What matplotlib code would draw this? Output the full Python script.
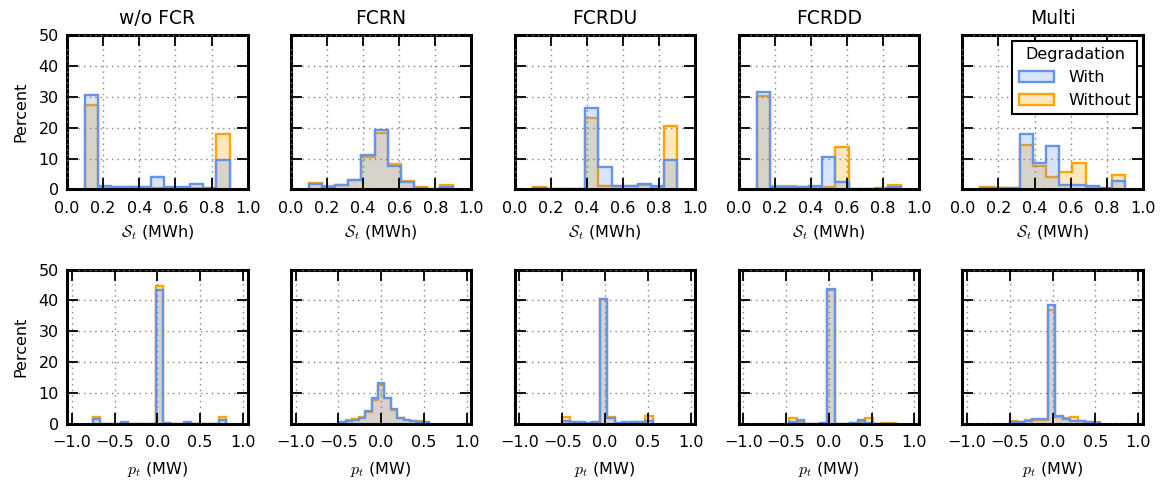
import matplotlib
matplotlib.use("Agg")
import matplotlib.pyplot as plt
from matplotlib.patches import Patch
import numpy as np

plt.rcParams['font.family'] = ['DejaVu Sans']
plt.rcParams['mathtext.fontset'] = 'cm'
plt.rcParams['font.size'] = 11

titles = ["w/o FCR", "FCRN", "FCRDU", "FCRDD", "Multi"]

# state of energy histograms (percent), bins 0.1 .. 0.9
s_edges = np.linspace(0.1, 0.9, 12)
s_with = [
    [30.5, 1.0, 0.7, 0.8, 0.8, 4.0, 0.8, 0.8, 1.8, 0.5, 9.5],
    [1.8, 0.75, 1.4, 3.1, 11.2, 19.2, 7.5, 2.5, 0.5, 0.3, 0.9],
    [0.5, 0.3, 0.3, 0.3, 26.5, 7.3, 1.0, 1.0, 1.9, 1.0, 9.4],
    [31.6, 0.75, 0.75, 0.75, 1.0, 10.4, 2.5, 0.3, 0.3, 0.3, 0.75],
    [0.4, 0.4, 0.4, 17.9, 8.5, 14.1, 1.5, 1.5, 1.2, 0.5, 2.9],
]
s_without = [
    [27.5, 0.9, 0.7, 0.8, 0.8, 0.5, 0.6, 0.6, 0.6, 0.5, 18.1],
    [2.0, 1.0, 1.3, 3.0, 10.6, 18.3, 8.1, 2.8, 0.9, 0.3, 1.3],
    [0.7, 0.3, 0.3, 0.3, 23.1, 1.0, 1.2, 1.2, 1.4, 0.5, 20.7],
    [30.1, 1.0, 1.0, 0.8, 0.5, 0.75, 13.9, 0.3, 0.3, 0.4, 1.3],
    [0.9, 0.4, 0.4, 14.5, 7.7, 4.2, 5.8, 8.6, 0.75, 0.4, 4.7],
]

# power histograms (percent), each panel has its own bins
p_edges = [
    np.linspace(-0.75, 0.805, 20),
    np.linspace(-0.4875, 0.5625, 15),
    np.linspace(-0.5, 0.556, 13),
    np.linspace(-0.464, 0.782, 15),
    np.linspace(-0.5, 0.556, 13),
]
p_with = [
    [1.5, 0, 0, 0, 0.5, 0, 0, 0, 0, 43.4, 0.3, 0, 0, 0.7, 0, 0, 0, 0, 1.3],
    [0.5, 1.1, 1.3, 2.0, 4.2, 8.3, 13.3, 8.5, 4.8, 1.8, 1.3, 1.0, 0.75, 0.5],
    [1.0, 0.75, 0.75, 0.3, 0.75, 40.5, 2.0, 0.3, 0.6, 0.7, 0.7, 1.0],
    [0.75, 1.4, 0.1, 0.1, 0.4, 43.7, 0.1, 0.1, 0.2, 1.4, 0.3, 0, 0, 0],
    [0.5, 0.75, 1.0, 1.5, 1.5, 38.4, 2.7, 1.6, 1.1, 1.0, 0.5, 0.3],
]
p_without = [
    [2.2, 0, 0, 0, 0, 0, 0, 0, 0, 44.6, 0, 0, 0, 0, 0, 0, 0, 0, 2.2],
    [0.75, 1.3, 1.5, 2.1, 4.0, 7.7, 12.5, 8.3, 4.5, 2.0, 1.4, 1.1, 0.9, 0.6],
    [2.2, 0.5, 0.4, 0.3, 0.5, 40.3, 2.4, 0.3, 0.2, 0.5, 0.6, 2.5],
    [2.0, 0.8, 0.1, 0.1, 0.2, 43.5, 0.1, 0.1, 0.2, 0.6, 1.8, 0.1, 0.3, 0.3],
    [1.0, 0.75, 1.4, 1.4, 1.2, 36.8, 2.2, 2.0, 2.1, 1.0, 0.5, 0.75],
]

c_with = "cornflowerblue"
c_without = "orange"
f_with = (0.392, 0.584, 0.929, 0.25)
f_without = (1.0, 0.647, 0.0, 0.25)


def style_ax(ax):
    for sp in ax.spines.values():
        sp.set_linewidth(2.2)
    ax.tick_params(direction="in", top=True, right=True, length=8, width=1.3,
                   labelsize=11.5)
    ax.tick_params(axis="x", pad=8)
    ax.tick_params(axis="y", pad=6)
    ax.grid(True, color="0.5", linestyle=(0, (1, 3)), linewidth=1)
    ax.set_axisbelow(False)


def draw(ax, edges, h_with, h_without):
    ax.stairs(h_without, edges, fill=True, facecolor=f_without, edgecolor="none")
    ax.stairs(h_without, edges, color=c_without, linewidth=1.7)
    ax.stairs(h_with, edges, fill=True, facecolor=f_with, edgecolor="none")
    ax.stairs(h_with, edges, color=c_with, linewidth=1.7)


fig, axes = plt.subplots(2, 5, figsize=(11.61, 4.83), dpi=100)
fig.subplots_adjust(left=0.0577, right=0.9845, top=0.9275, bottom=0.1222,
                    wspace=0.239, hspace=0.518)

for i in range(5):
    ax = axes[0, i]
    draw(ax, s_edges, s_with[i], s_without[i])
    ax.set_xlim(0, 1)
    ax.set_ylim(0, 50)
    ax.set_xticks([0.0, 0.2, 0.4, 0.6, 0.8, 1.0])
    ax.set_yticks([0, 10, 20, 30, 40, 50])
    ax.set_title(titles[i], fontsize=13.5, pad=8)
    ax.set_xlabel(r"$\mathcal{S}_t$ (MWh)", fontsize=11.5, labelpad=6)
    style_ax(ax)

    ax = axes[1, i]
    draw(ax, p_edges[i], p_with[i], p_without[i])
    ax.set_xlim(-1.056, 1.056)
    ax.set_ylim(0, 50)
    ax.set_xticks([-1.0, -0.5, 0.0, 0.5, 1.0])
    ax.set_yticks([0, 10, 20, 30, 40, 50])
    ax.set_xlabel(r"$p_t$ (MW)", fontsize=11.5, labelpad=7)
    style_ax(ax)

    if i == 0:
        axes[0, i].set_ylabel("Percent", fontsize=11.5, labelpad=7)
        axes[1, i].set_ylabel("Percent", fontsize=11.5, labelpad=7)
    else:
        axes[0, i].tick_params(labelleft=False)
        axes[1, i].tick_params(labelleft=False)

handles = [
    Patch(facecolor=f_with, edgecolor=c_with, linewidth=1.7, label="With"),
    Patch(facecolor=f_without, edgecolor=c_without, linewidth=1.7, label="Without"),
]
leg = axes[0, 4].legend(handles=handles, title="Degradation", loc="upper right",
                        fancybox=False, framealpha=1, edgecolor="black",
                        fontsize=11.5, title_fontsize=11.5, handlelength=2.2,
                        borderaxespad=0.35, borderpad=0.4, labelspacing=0.5,
                        handletextpad=0.9)
leg.get_frame().set_linewidth(1.5)

fig.savefig("out.png", dpi=100)
